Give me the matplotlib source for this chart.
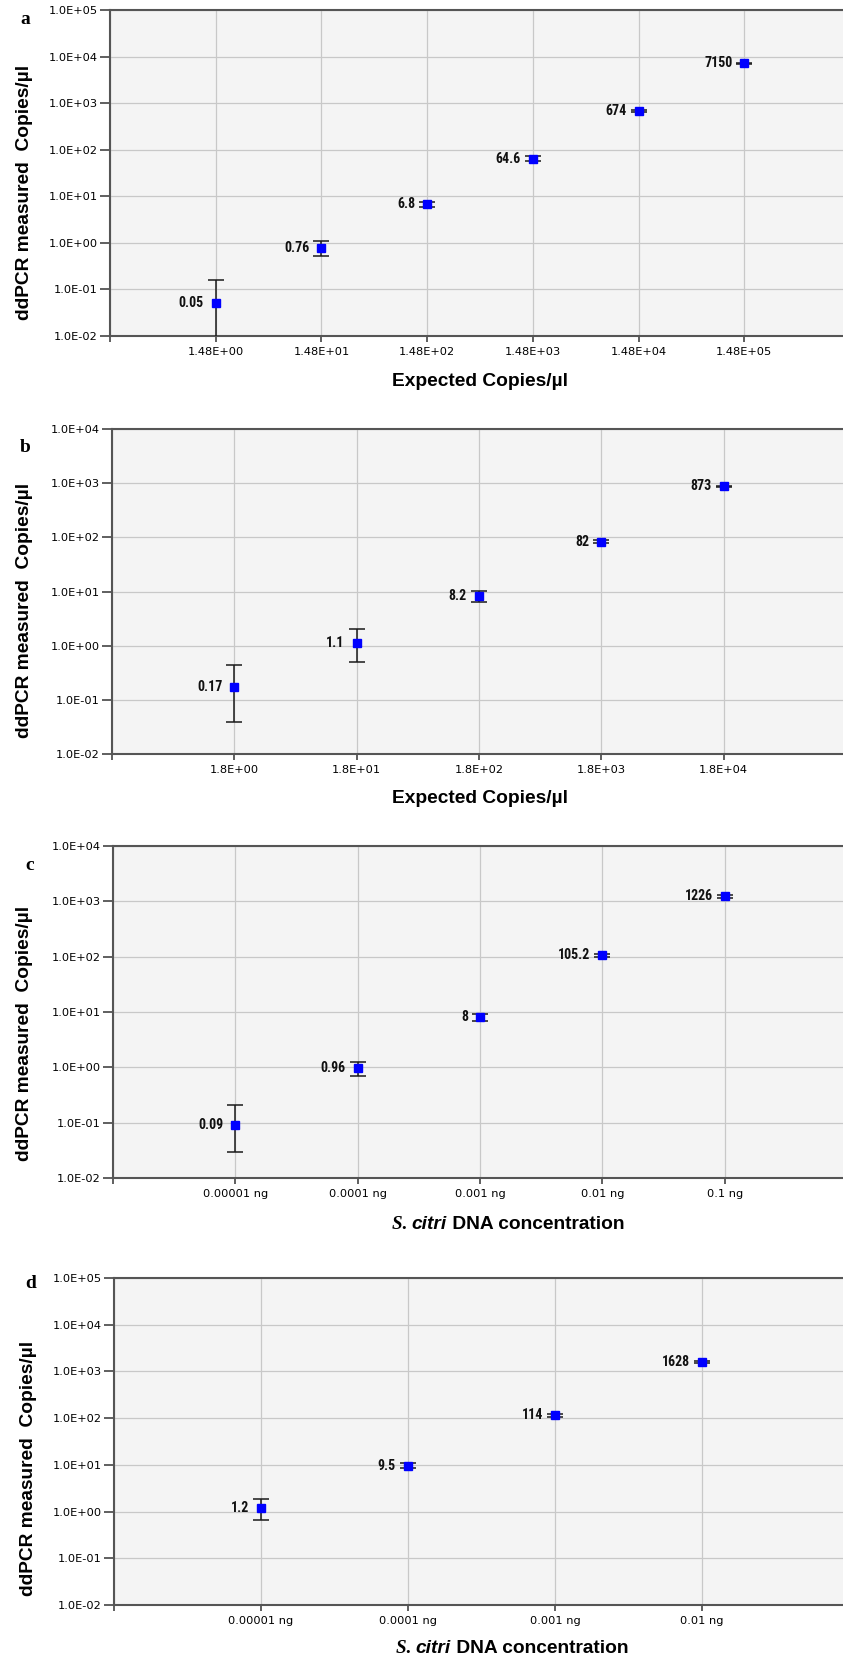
import numpy as np
import matplotlib
matplotlib.use('Agg')
import matplotlib.pyplot as plt
from matplotlib import font_manager

# panel a
a_cats = ['1.48E+00', '1.48E+01', '1.48E+02', '1.48E+03', '1.48E+04', '1.48E+05']
a_vals = [0.05, 0.76, 6.8, 64.6, 674, 7150]
a_lo = [0.001, 0.53, 6.0, 58, 630, 6850]
a_hi = [0.16, 1.08, 7.7, 72, 720, 7450]
a_labels = ['0.05', '0.76', '6.8', '64.6', '674', '7150']

# panel b
b_cats = ['1.8E+00', '1.8E+01', '1.8E+02', '1.8E+03', '1.8E+04']
b_vals = [0.17, 1.1, 8.2, 82, 873]
b_lo = [0.039, 0.50, 6.3, 77, 840]
b_hi = [0.44, 2.05, 10.2, 88, 905]
b_labels = ['0.17', '1.1', '8.2', '82', '873']

# panel c
c_cats = ['0.00001 ng', '0.0001 ng', '0.001 ng', '0.01 ng', '0.1 ng']
c_vals = [0.09, 0.96, 8, 105.2, 1226]
c_lo = [0.030, 0.70, 7.0, 99, 1170]
c_hi = [0.21, 1.24, 9.1, 111, 1290]
c_labels = ['0.09', '0.96', '8', '105.2', '1226']

# panel d
d_cats = ['0.00001 ng', '0.0001 ng', '0.001 ng', '0.01 ng']
d_vals = [1.2, 9.5, 114, 1628]
d_lo = [0.65, 8.4, 108, 1550]
d_hi = [1.83, 10.8, 120, 1710]
d_labels = ['1.2', '9.5', '114', '1628']

W, H = 843, 1660
fig = plt.figure(figsize=(W / 100, H / 100), dpi=100)

LABEL_FONT = ['Liberation Sans', 'DejaVu Sans']

# pick a narrow font for the point labels if there is one
installed = font_manager.fontManager.ttflist
names = {f.name for f in installed}
NUM_KW = dict(family=['Liberation Sans', 'DejaVu Sans'], fontsize=9.5)
for cand in ['Liberation Sans Narrow', 'Roboto Condensed', 'Open Sans Condensed']:
    if cand in names:
        NUM_KW = dict(family=[cand, 'DejaVu Sans'], fontsize=10)
        break
else:
    if any(f.name == 'DejaVu Sans' and str(f.stretch) in ('condensed', '75') for f in installed):
        NUM_KW = dict(family=['DejaVu Sans'], fontstretch='condensed', fontsize=9.5)


def box(left, right, top, bottom):
    # pixel box -> figure fraction
    return [left / W, (H - bottom) / H, (right - left) / W, (bottom - top) / H]


def panel(rect, cats, vals, lo, hi, labels, ytop):
    ax = fig.add_axes(rect)
    ax.set_facecolor('#f4f4f4')
    n = len(cats)
    x = np.arange(1, n + 1)
    vals = np.array(vals)
    yerr = [vals - np.array(lo), np.array(hi) - vals]
    ax.errorbar(x, vals, yerr=yerr, fmt='none', ecolor='#1a1a1a', elinewidth=1.1,
                capsize=6, capthick=1.1, zorder=3)
    ax.plot(x, vals, 's', color='#0000ff', ms=5.5, zorder=4)
    for xi, v, s in zip(x, vals, labels):
        ax.annotate(s, (xi, v), xytext=(-12, 0), textcoords='offset pixels',
                    ha='right', va='center', fontweight='bold', color='#111111', **NUM_KW)
    ax.set_yscale('log')
    ax.set_ylim(1e-2, 10.0 ** ytop)
    ax.set_xlim(0, n + 1)
    exps = list(range(-2, ytop + 1))
    ax.set_yticks([10.0 ** e for e in exps])
    ax.set_yticklabels(['1.0E%+03d' % e for e in exps])
    ax.yaxis.set_minor_locator(matplotlib.ticker.NullLocator())
    ax.set_xticks(range(0, n + 1))
    ax.set_xticklabels([''] + cats)
    ax.grid(True, color='#c8c8c8', lw=0.9)
    ax.set_axisbelow(True)
    ax.tick_params(axis='y', length=7, width=1.2, pad=2, labelsize=8.2, colors='#444444',
                   labelcolor='#000000')
    ax.tick_params(axis='x', length=4, width=1.2, pad=4, labelsize=8.2, colors='#444444',
                   labelcolor='#000000')
    for t in ax.get_xticklabels() + ax.get_yticklabels():
        t.set_fontweight('medium')
    for sp in ax.spines.values():
        sp.set_color('#555555')
        sp.set_linewidth(1.5)
    return ax


panel(box(110, 850, 10, 336), a_cats, a_vals, a_lo, a_hi, a_labels, 5)
panel(box(112, 846, 429, 754), b_cats, b_vals, b_lo, b_hi, b_labels, 4)
panel(box(113, 847, 846, 1178), c_cats, c_vals, c_lo, c_hi, c_labels, 4)
panel(box(114, 849, 1278, 1605), d_cats, d_vals, d_lo, d_hi, d_labels, 5)


def ftext(px, py, s, **kw):
    return fig.text(px / W, 1 - py / H, s, **kw)


# panel letters
for s, px, py in [('a', 25, 20), ('b', 25, 447), ('c', 30, 865), ('d', 31, 1283)]:
    ftext(px, py, s, ha='center', va='center', fontsize=14, fontweight='bold',
          family='Liberation Serif')

# y labels
ylab = 'ddPCR measured  Copies/\u00b5l'
for px, py in [(25, 192), (25, 610), (25, 1033), (29, 1468)]:
    ftext(px, py, ylab, rotation=90, ha='center', va='center', fontsize=13.8,
          fontweight='bold', family=LABEL_FONT)

# x labels
for py in [382, 798]:
    ftext(480, py, 'Expected Copies/\u00b5l', ha='center', va='center', fontsize=13.8,
          fontweight='bold', family=LABEL_FONT)


def mixed(pxc, py, parts):
    r = fig.canvas.get_renderer()
    texts = [ftext(0, py, s, ha='left', va='center', fontsize=13.8, **kw) for s, kw in parts]
    widths = [t.get_window_extent(r).width for t in texts]
    xpos = pxc - sum(widths) / 2
    for t, w in zip(texts, widths):
        t.set_x(xpos / W)
        xpos += w


conc_parts = [('S. ', dict(family='Liberation Serif', fontweight='bold', fontstyle='italic')),
              ('citri', dict(family=LABEL_FONT, fontweight='bold', fontstyle='italic')),
              (' DNA concentration', dict(family=LABEL_FONT, fontweight='bold'))]
mixed(508, 1224, conc_parts)
mixed(512, 1648, conc_parts)

fig.savefig('out.png', dpi=100)
